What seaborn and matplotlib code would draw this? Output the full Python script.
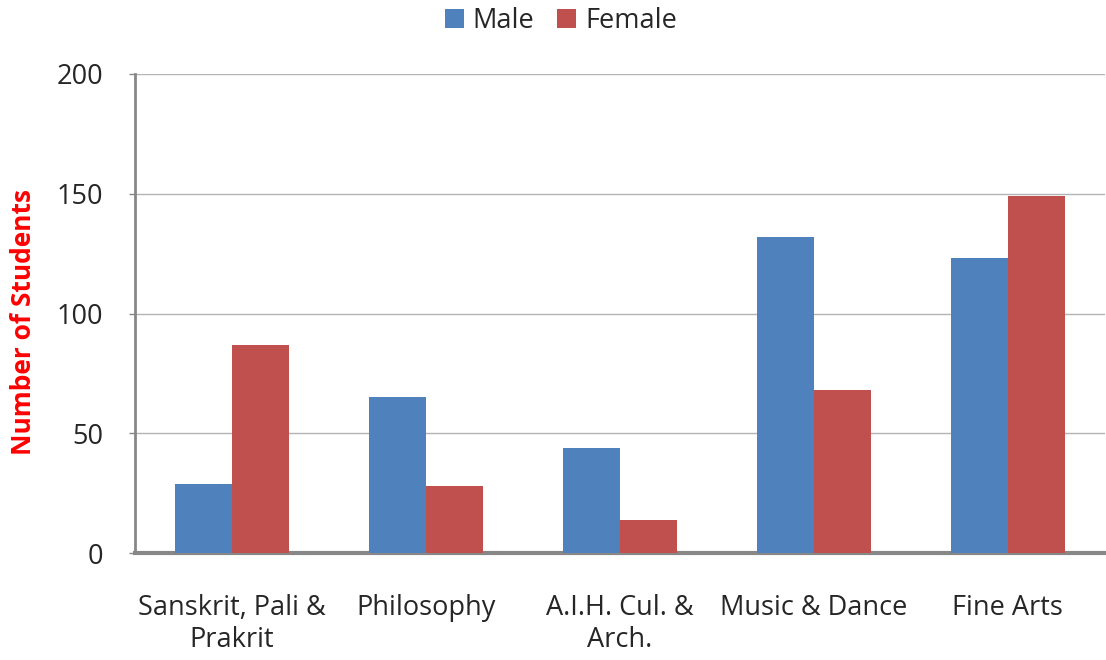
import pandas as pd
import seaborn as sns
import matplotlib.pyplot as plt

# Data
departments = ["Sanskrit, Pali &\nPrakrit", "Philosophy", "A.I.H. Cul. &\nArch.", "Music & Dance", "Fine Arts"]
male = [29, 65, 44, 132, 123]
female = [87, 28, 14, 68, 149]

df = pd.DataFrame({"Department": departments, "Male": male, "Female": female})
df = df.melt(id_vars="Department", var_name="Gender", value_name="Students")

sns.set_style("white")
plt.rcParams["font.family"] = ["Open Sans", "DejaVu Sans"]

fig = plt.figure(figsize=(11.06, 6.6), dpi=100)
ax = fig.add_axes([0.122, 0.162, 0.877, 0.726])

sns.barplot(data=df, x="Department", y="Students", hue="Gender",
            palette={"Male": "#4f81bd", "Female": "#c0504d"},
            width=0.59, gap=0, saturation=1, linewidth=0, ax=ax, zorder=3)

ax.set_ylim(0, 200)
ax.set_xlim(-0.5, 4.5)
ax.set_yticks([0, 50, 100, 150, 200])
ax.yaxis.grid(True, color="#b3b3b3", linewidth=1, zorder=0)
ax.set_axisbelow(True)

for s in ["top", "right"]:
    ax.spines[s].set_visible(False)
ax.spines["left"].set_color("#878787")
ax.spines["left"].set_linewidth(2)
ax.spines["bottom"].set_color("#878787")
ax.spines["bottom"].set_linewidth(3)

ax.tick_params(axis="y", left=True, length=4, width=1, color="#878787",
               labelsize=19.5, labelcolor="#262626", pad=19)
ax.tick_params(axis="x", bottom=False, labelsize=19.5, labelcolor="#262626", pad=26)
for lbl in ax.get_xticklabels():
    lbl.set_linespacing(1.2)

ax.set_xlabel("")
ax.set_ylabel("Number of Students", color="red", fontsize=19, fontweight="bold")
ax.yaxis.set_label_coords(-0.101, 0.482)

ax.get_legend().remove()
handles, labels = ax.get_legend_handles_labels()
fig.legend(handles, labels, loc="center", bbox_to_anchor=(561 / 1106, 1 - 21 / 660), ncol=2,
           frameon=False, fontsize=19.5, handlelength=0.7, handleheight=0.7,
           columnspacing=0.85, handletextpad=0.33, labelcolor="#262626")

fig.savefig("out.png", dpi=100)
